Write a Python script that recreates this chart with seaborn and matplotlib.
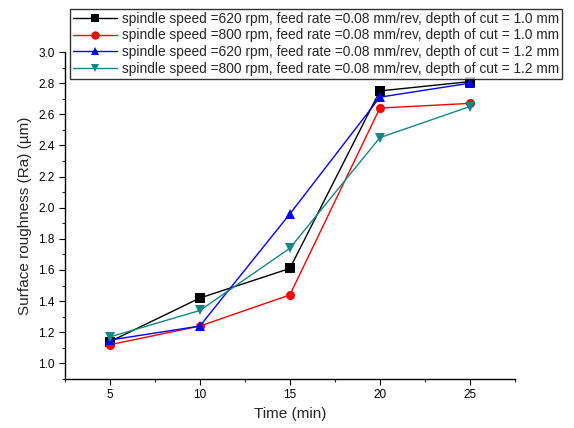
import pandas as pd
import seaborn as sns
import matplotlib.pyplot as plt
from matplotlib.ticker import MultipleLocator

time_min = [5, 10, 15, 20, 25]
ra_620_10 = [1.14, 1.42, 1.61, 2.75, 2.81]
ra_800_10 = [1.12, 1.24, 1.44, 2.64, 2.67]
ra_620_12 = [1.15, 1.24, 1.96, 2.71, 2.80]
ra_800_12 = [1.17, 1.34, 1.74, 2.45, 2.65]

labels = [
    "spindle speed =620 rpm, feed rate =0.08 mm/rev, depth of cut = 1.0 mm",
    "spindle speed =800 rpm, feed rate =0.08 mm/rev, depth of cut = 1.0 mm",
    "spindle speed =620 rpm, feed rate =0.08 mm/rev, depth of cut = 1.2 mm",
    "spindle speed =800 rpm, feed rate =0.08 mm/rev, depth of cut = 1.2 mm",
]
colors = ["black", "red", "blue", "#138785"]
markers = ["s", "o", "^", "v"]

series = [ra_620_10, ra_800_10, ra_620_12, ra_800_12]
df = pd.concat(
    [pd.DataFrame({"Time": time_min, "Ra": vals, "cond": lab}) for lab, vals in zip(labels, series)],
    ignore_index=True,
)

sns.set_style("ticks")
plt.rcParams["font.family"] = ["Liberation Sans", "DejaVu Sans"]

fig = plt.figure(figsize=(5.74, 4.28), dpi=100)
ax = fig.add_axes([0.113, 0.1145, 0.784, 0.764])

sns.lineplot(
    data=df, x="Time", y="Ra", hue="cond", style="cond",
    palette=dict(zip(labels, colors)), markers=dict(zip(labels, markers)),
    dashes=False, markersize=6.5, linewidth=1, markeredgewidth=0, ax=ax,
)

ax.set_xlim(2.5, 27.5)
ax.set_ylim(0.9, 3.0)
ax.xaxis.set_major_locator(MultipleLocator(5))
ax.xaxis.set_minor_locator(MultipleLocator(2.5))
ax.yaxis.set_minor_locator(MultipleLocator(0.1))
ax.set_yticks([1.0, 1.2, 1.4, 1.6, 1.8, 2.0, 2.2, 2.4, 2.6, 2.8, 3.0])
ax.tick_params(which="major", direction="out", length=4, width=0.8, labelsize=8.5, colors="black")
ax.tick_params(which="minor", direction="out", length=2.5, width=0.8)
for s in ["top", "right"]:
    ax.spines[s].set_visible(False)
for s in ["left", "bottom"]:
    ax.spines[s].set_linewidth(1)
    ax.spines[s].set_color("black")

ax.set_xlabel("Time (min)", fontsize=11)
ax.set_ylabel("Surface roughness (Ra) (\u00b5m)", fontsize=11)

handles, _ = ax.get_legend_handles_labels()
for h in handles:
    h.set_markersize(6)
leg = ax.legend(
    handles, labels, loc="upper left", bbox_to_anchor=(70 / 574, 1 - 9 / 428),
    bbox_transform=fig.transFigure, fontsize=9.9, frameon=True, fancybox=False,
    borderpad=0.2, labelspacing=0.2, handlelength=3.2, handletextpad=0.4, borderaxespad=0,
)
leg.get_frame().set_edgecolor("black")
leg.get_frame().set_linewidth(1)

fig.savefig("out.png", dpi=100)
